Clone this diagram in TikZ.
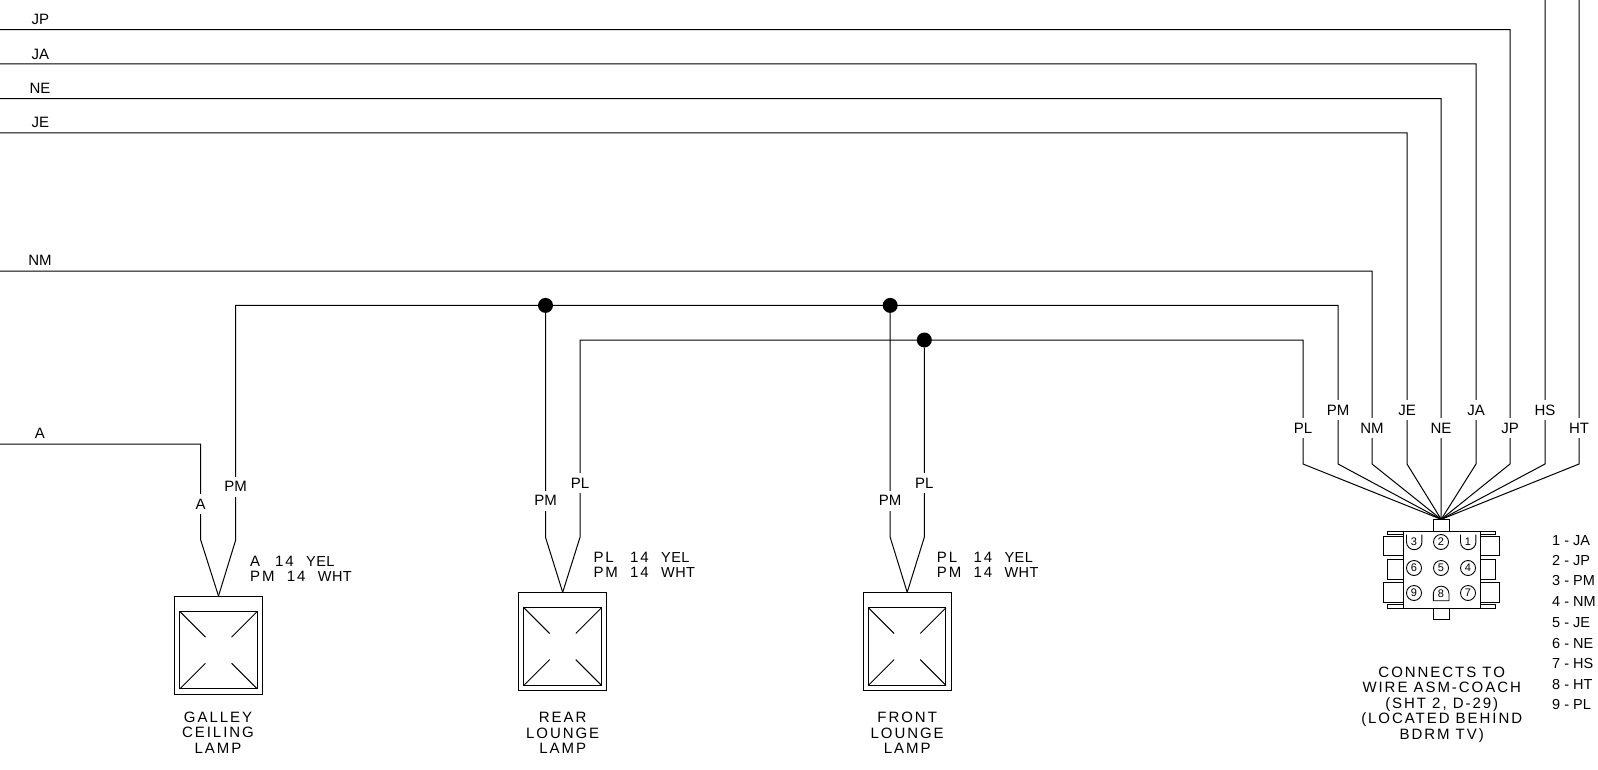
\documentclass[tikz,border=0pt]{standalone}
\usepackage{fontspec}
\setmainfont{Liberation Sans}
\newfontfamily\spcfont[LetterSpace=13]{Liberation Sans}
\newfontfamily\tightfont[LetterSpace=3]{Liberation Sans}
\newcommand{\wn}[5]{\makebox[#1pt][l]{#3}\makebox[#2pt][l]{#4}{\tightfont\fontsize{14.5}{15.5}\selectfont #5}}
\tikzset{
  wire/.style={draw=black,line width=1pt,line join=miter},
  part/.style={draw=black,line width=1pt,rectangle,inner sep=0pt,outer sep=0pt},
  lbl/.style={fill=white,inner sep=.5pt,minimum height=20pt,font=\fontsize{15}{15}\selectfont},
  txt/.style={inner sep=0pt,font=\fontsize{15}{15}\selectfont},
  wnote/.style={inner sep=0pt,align=left,anchor=west,font=\fontsize{15}{15.5}\spcfont},
  captext/.style={inner sep=0pt,align=center,font=\fontsize{15}{15.5}\spcfont},
  jdot/.style={circle,fill=black,inner sep=0pt,minimum size=15pt,outer sep=0pt},
  pinc/.style={circle,draw=black,line width=.9pt,inner sep=0pt,minimum size=15pt,font=\fontsize{11}{11}\selectfont},
  pinnum/.style={inner sep=0pt,font=\fontsize{11}{11}\selectfont},
  legtext/.style={inner sep=0pt,anchor=west,font=\fontsize{14.5}{14.5}\selectfont}
}
\newcommand{\lampsym}[3]{%
  \node[part,minimum width=88pt,minimum height=98pt] (#1o) at (#2,#3) {};
  \node[part,minimum width=77.5pt,minimum height=77.5pt] (#1i) at (#2,#3+5.2) {};
  \draw[wire] (#1i.north west) -- ++(25.7,25.7);
  \draw[wire] (#1i.north east) -- ++(-25.7,25.7);
  \draw[wire] (#1i.south west) -- ++(25.7,-25.7);
  \draw[wire] (#1i.south east) -- ++(-25.7,-25.7);
}
\begin{document}
\begin{tikzpicture}[x=1pt,y=-1pt]
\useasboundingbox (0,0) rectangle (1598,770);
% connector
\node[part,minimum width=15.7pt,minimum height=11.7pt] (ctab) at (1441.2,525.2) {};
\node[part,minimum width=15.7pt,minimum height=11pt] (cbot) at (1441.2,613.5) {};
\node[part,minimum width=77pt,minimum height=77pt] (cbody) at (1441.5,569.5) {};
\draw[wire] (1387,534) -- (1387,531) -- (1495,531) -- (1495,534) -- (1480,534);
\draw[wire] (1387,534) -- (1403,534);
\draw[wire] (1387,604) -- (1387,608) -- (1495,608) -- (1495,604) -- (1480,604);
\draw[wire] (1387,604) -- (1403,604);
\node[part,minimum width=19.3pt,minimum height=19.7pt] (el1) at (1393.4,545.9) {};
\node[part,minimum width=15.7pt,minimum height=19.7pt] (el2) at (1395.2,569.2) {};
\node[part,minimum width=19.3pt,minimum height=19.7pt] (el3) at (1393.4,592.3) {};
\node[part,minimum width=19pt,minimum height=19.7pt] (er1) at (1489.5,545.9) {};
\node[part,minimum width=15pt,minimum height=19.7pt] (er2) at (1487.5,569.2) {};
\node[part,minimum width=19pt,minimum height=19.7pt] (er3) at (1489.5,592.3) {};
% pins
\draw[wire,line width=.9pt] (1406.5,534.5) -- (1406.5,542) arc (180:0:7.7) -- (1421.9,534.5);
\node[pinnum] (p3) at (1414,542) {3};
\node[pinc] (p2) at (1441,542) {2};
\draw[wire,line width=.9pt] (1460.5,534.5) -- (1460.5,542) arc (180:0:7.7) -- (1475.9,534.5);
\node[pinnum] (p1) at (1468,542) {1};
\node[pinc] (p6) at (1414,568) {6};
\node[pinc] (p5) at (1441,568) {5};
\node[pinc] (p4) at (1468,568) {4};
\node[pinc] (p9) at (1414,593) {9};
\draw[wire,line width=.9pt] (1433.3,600.7) -- (1449,600.7) -- (1449,594) arc (0:-180:7.85) -- cycle;
\node[pinnum] (p8) at (1441,594) {8};
\node[pinc] (p7) at (1468,593) {7};
% lamps
\lampsym{g}{218.5}{645}
\lampsym{r}{562.7}{641.3}
\lampsym{f}{907.2}{641.3}
% free ends and bends
\foreach \n/\x/\y in {eJP/0/29.7,eJA/0/64,eNE/0/98.7,eJE/0/133,eNM/0/271,eA/0/444,
  tJP/1510/29.7,tJA/1476/64,tNE/1441/98.7,tJE/1407/133,tNM/1372/271,
  tPM/1338/305.4,tPL/1303/340,tHS/1545/0,tHT/1579/0,
  bPL/1303/464,bPM/1338/464,bNM/1372/464,bJE/1407/464,bNE/1441/464,bJA/1476/464,bJP/1510/464,bHS/1545/464,bHT/1579/464,
  gAt/200.7/444,gAb/200.7/540,gPt/235.7/305.4,gPb/235.7/540,
  rPb/545.5/537.3,rLt/580/340,rLb/580/537.3,
  fPb/890.2/537.3,fLb/924.3/537.3}
  {\coordinate (\n) at (\x,\y);}
\node[jdot] (j1) at (545.5,305.4) {};
\node[jdot] (j2) at (890.2,305.4) {};
\node[jdot] (j3) at (924.3,340) {};
% wires
\draw[wire] (eJP) -- (tJP) -- (bJP) -- (ctab.north);
\draw[wire] (eJA) -- (tJA) -- (bJA) -- (ctab.north);
\draw[wire] (eNE) -- (tNE) -- (bNE) -- (ctab.north);
\draw[wire] (eJE) -- (tJE) -- (bJE) -- (ctab.north);
\draw[wire] (eNM) -- (tNM) -- (bNM) -- (ctab.north);
\draw[wire] (tHS) -- (bHS) -- (ctab.north);
\draw[wire] (tHT) -- (bHT) -- (ctab.north);
\draw[wire] (go.north) -- (gPb) -- (gPt) -- (tPM) -- (bPM) -- (ctab.north);
\draw[wire] (go.north) -- (gAb) -- (gAt) -- (eA);
\draw[wire] (ro.north) -- (rPb) -- (j1);
\draw[wire] (ro.north) -- (rLb) -- (rLt) -- (tPL) -- (bPL) -- (ctab.north);
\draw[wire] (fo.north) -- (fPb) -- (j2);
\draw[wire] (fo.north) -- (fLb) -- (j3);
% wire labels
\node[txt] (nJP) at (40.5,19) {JP};
\node[txt] (nJA) at (40.5,54) {JA};
\node[txt] (nNE) at (40,88.5) {NE};
\node[txt] (nJE) at (40.5,122.5) {JE};
\node[txt] (nNM) at (40,260.5) {NM};
\node[txt] (nA) at (40,433) {A};
\foreach \n/\t/\x/\y in {lPL/PL/1303/428,lPM/PM/1338/410,lNM/NM/1372/428,lJE/JE/1407/410,lNE/NE/1441/428,lJA/JA/1476/410,lJP/JP/1510/428,lHS/HS/1545/410,lHT/HT/1579/428,
  lgA/A/200.7/504,lgP/PM/235.7/486.5,lrP/PM/545.5/500.5,lrL/PL/580/483,lfP/PM/890.2/500.5,lfL/PL/924.3/483}
  {\node[lbl] (\n) at (\x,\y) {\t};}
% notes
\node[wnote] (ng) at (250,568.8) {\wn{25}{31}{A}{14}{YEL}\\\wn{36.7}{31}{PM}{14}{WHT}};
\node[wnote] (nr) at (593.3,565) {\wn{36.7}{31}{PL}{14}{YEL}\\\wn{36.7}{31}{PM}{14}{WHT}};
\node[wnote] (nf) at (936.7,565) {\wn{36.7}{31}{PL}{14}{YEL}\\\wn{36.7}{31}{PM}{14}{WHT}};
\node[captext] (cg) at (218,732.5) {GALLEY\\CEILING\\LAMP};
\node[captext] (cr) at (562.7,733) {REAR\\LOUNGE\\LAMP};
\node[captext] (cf) at (907.2,733) {FRONT\\LOUNGE\\LAMP};
\node[captext] (cc) at (1441.7,704.5) {CONNECTS TO\\WIRE ASM-COACH\\(SHT 2, D-29)\\(LOCATED BEHIND\\BDRM TV)};
% legend
\foreach \n/\t/\y in {1/1 - JA/540.7,2/2 - JP/560.7,3/3 - PM/580.7,4/4 - NM/602,5/5 - JE/622.7,6/6 - NE/643.3,7/7 - HS/664,8/8 - HT/684.7,9/9 - PL/705}
  {\node[legtext] (leg\n) at (1552,\y) {\t};}
\end{tikzpicture}
\end{document}
